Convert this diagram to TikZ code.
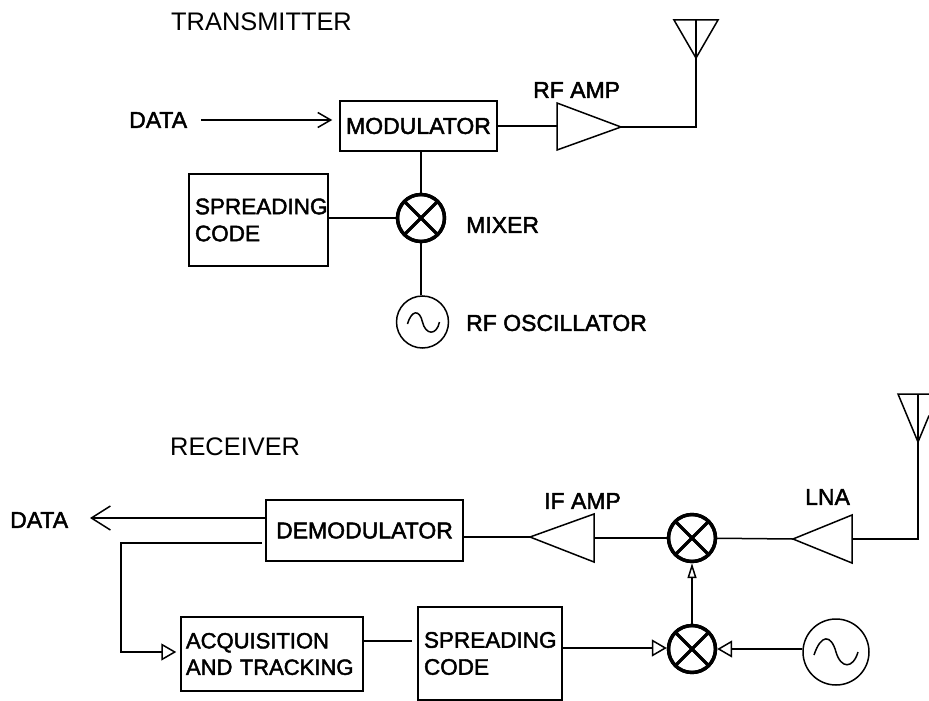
\documentclass[tikz,border=0pt]{standalone}
\usepackage{fontspec}
\setmainfont{Liberation Sans}
\newfontfamily\labfont[FakeBold=2]{Liberation Sans}
\usetikzlibrary{arrows.meta,calc}
\tikzset{
  wire/.style={line width=1.5pt,line cap=butt},
  title/.style={inner sep=0pt,anchor=west,font=\fontsize{25.4}{30}\selectfont},
  lab/.style={inner sep=0pt,anchor=west,font=\labfont\fontsize{23}{27}\selectfont},
  blockbox/.style={draw,line width=1.5pt,inner ysep=0pt,inner xsep=0pt,align=center,font=\labfont\fontsize{23}{27}\selectfont},
  mixer/.style={draw,circle,line width=3.4pt,minimum size=47pt,inner sep=0pt,
    path picture={\draw[line width=3pt] (path picture bounding box.north west)--(path picture bounding box.south east)
      (path picture bounding box.north east)--(path picture bounding box.south west);}},
  osc/.style={draw,circle,line width=1.5pt,inner sep=0pt},
  hollow/.style={-{Triangle[open,fill=white,length=15pt,width=17pt,line width=1.5pt]}},
  hollowsmall/.style={-{Triangle[open,fill=white,length=15pt,width=9pt,line width=1.5pt]}},
  vee/.style={-{Straight Barb[length=13pt,width=15pt,line width=1.5pt]}},
  veebig/.style={-{Straight Barb[length=19pt,width=24pt,line width=1.5pt]}},
  shapeline/.style={line width=1.5pt,line join=miter}
}
\begin{document}
\begin{tikzpicture}[x=1pt,y=-1pt]
\useasboundingbox (0,0) rectangle (929,701);
% ---------- transmitter ----------
\node[title] (txtitle) at (171,22) {TRANSMITTER};
\node[lab] (txdata) at (129,120) {DATA};
\node[blockbox,minimum width=157pt,minimum height=50pt] (mod) at (418.5,126) {MODULATOR};
\node[blockbox,minimum width=139pt,minimum height=92pt,inner xsep=6pt,text width=127pt,align=left,font=\labfont\fontsize{22.5}{27}\selectfont] (txcode) at (258.5,220) {SPREADING\\CODE};
\node[mixer] (txmix) at (421,218) {};
\node[lab] (txmixl) at (466,225) {MIXER};
\node[osc,minimum size=52pt] (txosc) at (422.5,322) {};
\node[lab] (txoscl) at (466,323) {RF OSCILLATOR};
\node[lab] (rfl) at (533,90) {RF AMP};
\coordinate (rfa) at (557,103);
\coordinate (rfb) at (557,150);
\coordinate (rftip) at (621,127);
\coordinate (txap) at (696,58);
\coordinate (txal) at (674,20);
\coordinate (txar) at (718,20);
\coordinate (txat) at (696,20);
\coordinate (txac) at (696,127);
\coordinate (txds) at (201,120);
\draw[shapeline] (rfa)--(rftip)--(rfb)--cycle;
\draw[shapeline] (txal)--(txar)--(txap)--cycle;
\draw[wire] (txat)--(txac)--(rftip);
\draw[wire,vee,shorten >=7pt] (txds)--(txds-|mod.west);
\draw[wire] (mod.east|-0,126)--(rfa|-0,126);
\draw[wire] (mod.south-|txmix)--(txmix);
\draw[wire] (txcode.east|-txmix)--(txmix);
\draw[wire] (txmix)--(txosc.north-|txmix);
\draw[line width=1.5pt,shift={(txosc.center)}] (-15,2) .. controls (-11,-12) and (-3,-13) .. (0,0) .. controls (3,13) and (14,14) .. (17,0);
% redraw mixer on top of wires
\node[mixer] at (txmix) {};
% ---------- receiver ----------
\node[title] (rxtitle) at (170,447) {RECEIVER};
\node[lab] (rxdata) at (10,520) {DATA};
\node[blockbox,minimum width=197pt,minimum height=61pt] (demod) at (364.5,530.5) {DEMODULATOR};
\node[blockbox,minimum width=182pt,minimum height=74pt,inner xsep=5pt,text width=172pt,align=left,font=\labfont\fontsize{22}{26.5}\selectfont] (acq) at (272,654) {ACQUISITION\\AND TRACKING};
\node[blockbox,minimum width=144pt,minimum height=93pt,inner xsep=6pt,text width=132pt,align=left,font=\labfont\fontsize{22.5}{27}\selectfont] (rxcode) at (490,653.5) {SPREADING\\CODE};
\node[mixer] (rxmixa) at (692,538) {};
\node[mixer] (rxmixb) at (692,649) {};
\node[osc,minimum size=66pt] (rxosc) at (836,652) {};
\node[lab] (ifl) at (544,501) {IF AMP};
\node[lab] (lnal) at (805,497) {LNA};
\coordinate (ifa) at (594,514);
\coordinate (ifb) at (594,562);
\coordinate (iftip) at (530,537);
\coordinate (lnaa) at (852,515);
\coordinate (lnab) at (852,563);
\coordinate (lnatip) at (793,539);
\coordinate (rxap) at (918,442);
\coordinate (rxal) at (898,394);
\coordinate (rxat) at (918,394);
\coordinate (rxaend) at (929,394);
\coordinate (rxaedge) at (929,415.6);
\coordinate (rxac) at (918,539);
\coordinate (rxfbs) at (262,543);
\coordinate (rxfbc) at (121,543);
\coordinate (rxfbd) at (121,652);
\coordinate (rxdt) at (90,518);
\draw[shapeline] (ifa)--(iftip)--(ifb)--cycle;
\draw[shapeline] (lnaa)--(lnatip)--(lnab)--cycle;
\draw[shapeline] (rxaend)--(rxal)--(rxap)--(rxaedge);
\draw[wire] (rxat)--(rxac)--(lnaa|-rxac);
\draw[wire] (lnatip)--(rxmixa);
\draw[wire] (rxmixa)--(ifa|-rxmixa);
\draw[wire] (iftip)--(demod.east|-iftip);
\draw[wire,veebig] (demod.west|-rxdt)--(rxdt);
\draw[wire,hollow,shorten >=4pt] (rxfbs)--(rxfbc)--(rxfbd)--(acq.west|-rxfbd);
\draw[wire,shorten >=5pt] (acq.east|-0,641)--(rxcode.west|-0,641);
\draw[wire,hollow] (rxcode.east|-0,648)--(rxmixb.west|-0,648);
\draw[wire,hollow] (rxosc.west|-rxmixb)--(rxmixb.east);
\draw[wire,hollowsmall] (rxmixb.north)--(rxmixa.south);
\draw[line width=1.5pt,shift={(rxosc.center)}] (-22,3) .. controls (-15,-18) and (-5,-18) .. (0,0) .. controls (5,17) and (17,17) .. (22,0);
% redraw mixers on top of wires
\node[mixer] at (rxmixa) {};
\node[mixer] at (rxmixb) {};
\end{tikzpicture}
\end{document}
